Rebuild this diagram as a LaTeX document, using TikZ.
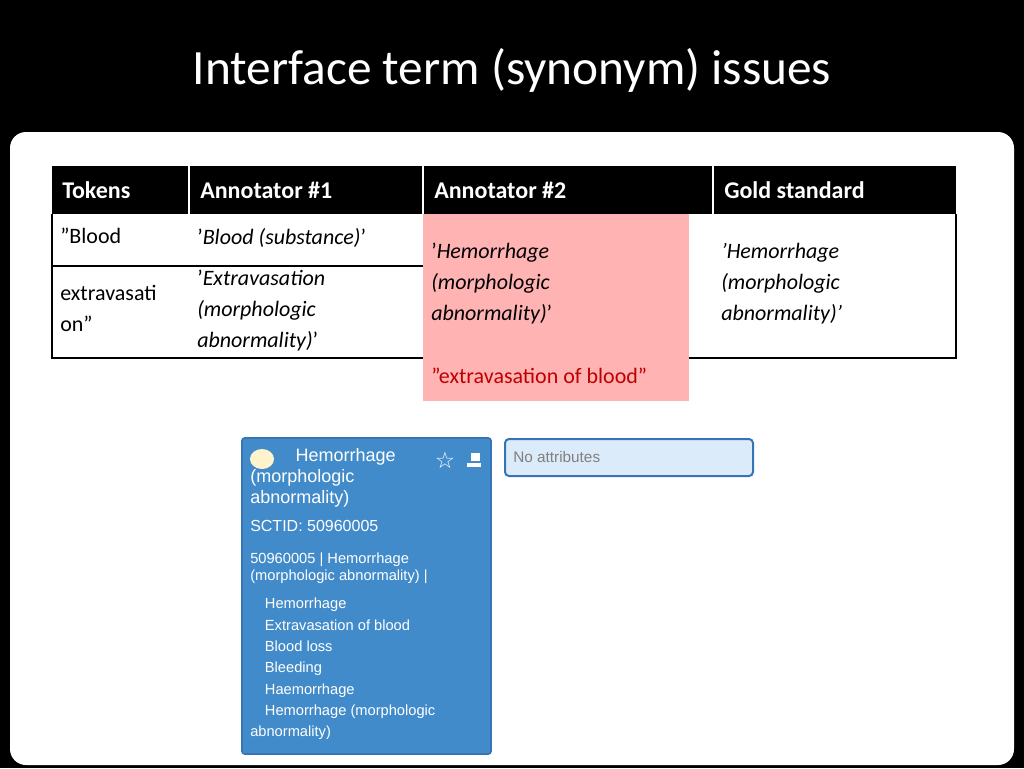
\documentclass[tikz,border=0pt]{standalone}
\usepackage{fontspec}
\setmainfont{Carlito}
\newfontfamily\arialf{Liberation Sans}
\newfontfamily\djv{DejaVu Sans}
\definecolor{pinkc}{HTML}{FFB3B3}
\definecolor{cardb}{HTML}{428BCA}
\definecolor{cardbd}{HTML}{3575B5}
\definecolor{attrf}{HTML}{DCEBFA}
\definecolor{redt}{HTML}{C00000}
\definecolor{cream}{HTML}{FFF3CC}
\tikzset{
 cell/.style={anchor=north west,align=left,inner sep=0pt,font=\fontsize{16.5}{23.3}\selectfont},
 hdr/.style={anchor=west,inner sep=0pt,text=white,font=\fontsize{18}{22}\selectfont\bfseries},
 card/.style={anchor=north west,align=left,inner sep=0pt,text=white,font=\arialf\fontsize{12}{13}\selectfont},
}
\begin{document}
\begin{tikzpicture}[x=0.75pt,y=-0.75pt]
\useasboundingbox (0,0) rectangle (1024,768);
\fill[black] (0,0) rectangle (1024,768);
\fill[white,rounded corners=12pt] (10,132) rectangle (1014,765);
\node[text=white,font=\fontsize{37}{40}\selectfont] (title) at (512,70) {Interface term (synonym) issues};
% pink column
\fill[pinkc] (423,214) rectangle (689,401);
% header
\fill[black] (52,166) rectangle (956,214);
\draw[white,line width=0.8pt] (189,166)--(189,214) (423,166)--(423,214) (713,166)--(713,214);
\node[hdr] (h1) at (62,190) {Tokens};
\node[hdr] (h2) at (200,190) {Annotator \#1};
\node[hdr] (h3) at (434,190) {Annotator \#2};
\node[hdr] (h4) at (724,190) {Gold standard};
% borders
\draw[black,line width=0.8pt] (52,214)--(52,358)--(423,358) (689,358)--(956,358)--(956,214);
\draw[black,line width=0.8pt] (52,266)--(423,266);
% cells
\node[cell] (t1) at (60,228) {"Blood};
\node[cell] (t2) at (60,285) {extravasati\\on"};
\node[cell] (a1) at (197,228) {'\textit{Blood (substance)}'};
\node[cell] (a2) at (197,270) {'\textit{Extravasation}\\\textit{(morphologic}\\\textit{abnormality)}'};
\node[cell] (b1) at (431,243) {'\textit{Hemorrhage}\\\textit{(morphologic}\\\textit{abnormality)}'};
\node[cell] (g1) at (721,243) {\textit{'Hemorrhage}\\\textit{(morphologic}\\\textit{abnormality)'}};
\node[cell,text=redt] (b2) at (431,368) {"extravasation of blood"};
% card
\draw[cardbd,fill=cardb,line width=1.2pt,rounded corners=2pt] (242,438) rectangle (491,754);
\fill[cream] (262,459) ellipse (12 and 10);
\node[card,font=\arialf\fontsize{13.5}{16}\selectfont] (c1) at (250,448) {\hspace*{34pt}Hemorrhage\\(morphologic\\abnormality)};
\node[text=white,font=\djv\fontsize{17}{17}\selectfont,inner sep=0pt] (star) at (445,460) {☆};
\fill[white] (467,463) rectangle (481,467);
\fill[white] (471,453)--(480,453)--(480,461)--(471,461)--cycle;
\node[card] (c2) at (250,520) {SCTID: 50960005};
\node[card,font=\arialf\fontsize{11}{12.5}\selectfont] (c3) at (250,553) {50960005 | Hemorrhage\\(morphologic abnormality) |};
\node[card,font=\arialf\fontsize{11}{16}\selectfont] (c4) at (250,598) {\hspace*{11pt}Hemorrhage\\\hspace*{11pt}Extravasation of blood\\\hspace*{11pt}Blood loss\\\hspace*{11pt}Bleeding\\\hspace*{11pt}Haemorrhage\\\hspace*{11pt}Hemorrhage (morphologic\\abnormality)};
% attributes
\draw[cardbd,fill=attrf,line width=1.5pt,rounded corners=3pt] (505,439) rectangle (753,476);
\node[anchor=west,inner sep=0pt,text=gray,font=\arialf\fontsize{11.5}{13}\selectfont] (at) at (513,457) {No attributes};
\end{tikzpicture}
\end{document}
